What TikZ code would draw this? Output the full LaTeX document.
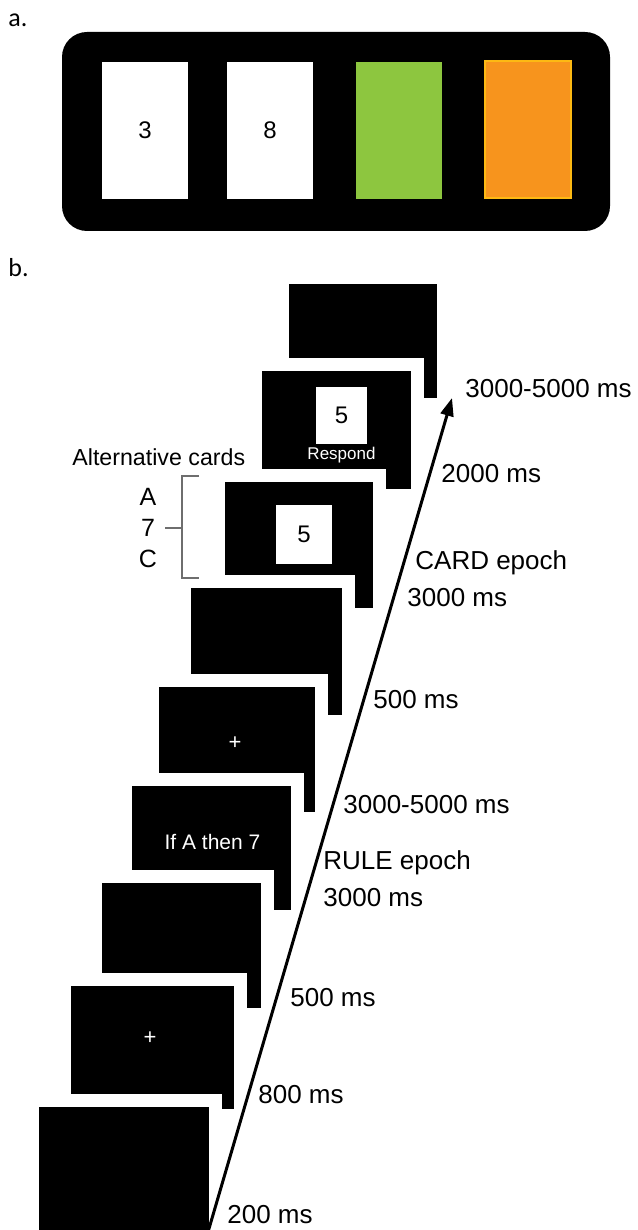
\documentclass[tikz,border=0pt]{standalone}
\usepackage{fontspec}
\setmainfont{Liberation Sans}
\newfontfamily\lblfont{Carlito}
\usetikzlibrary{arrows.meta}
\definecolor{cardgreen}{HTML}{8DC63F}
\definecolor{cardorange}{HTML}{F7941D}
\definecolor{cardedge}{HTML}{FDB913}
\definecolor{brackgray}{HTML}{6E6E6E}
\tikzset{
  card/.style={minimum width=43pt, minimum height=68.5pt, inner sep=0pt, font=\fontsize{12}{14}\selectfont},
  timelbl/.style={anchor=west, inner sep=0pt, font=\fontsize{13}{15}\selectfont},
  scrtxt/.style={text=white, inner sep=0pt},
  numbox/.style={fill=white, inner sep=0pt, font=\fontsize{12}{14}\selectfont},
  panellbl/.style={anchor=west, inner sep=0pt, font=\lblfont\fontsize{13}{15}\selectfont},
}
\begin{document}
\begin{tikzpicture}[x=0.5pt, y=-0.5pt]
\useasboundingbox (0,0) rectangle (637,1230);
\clip (0,0) rectangle (637,1230);
% panel a
\node[panellbl] (la) at (8,20) {a.};
\node[fill=black, rounded corners=12.5pt, minimum width=274pt, minimum height=99.5pt, inner sep=0pt] (panel) at (336,131.5) {};
\node[card, fill=white] (c1) at (145,130.5) {3};
\node[card, fill=white] (c2) at (270,130.5) {8};
\node[card, fill=cardgreen] (c3) at (398.5,131) {};
\node[card, fill=cardorange, draw=cardedge, line width=0.6pt] (c4) at (528,129.5) {};
% panel b
\node[panellbl] (lb) at (8,268) {b.};
\foreach \xa/\ya/\xb/\yb in {289/284/437/398, 262/371/411/489, 225/482/373/608, 191/588/342/715, 159/687/315/812, 132/786/291/910, 102/883/261/1008, 71/986/234/1109, 39/1107/209/1260}{
  \fill[white] (\xa-12.5,\ya-13) rectangle (\xb+12.5,\yb+12.5);
  \fill[black] (\xa,\ya) rectangle (\xb,\yb);
}
% screen contents
\node[numbox, minimum width=25.5pt, minimum height=28.5pt] (n2) at (341.5,415.5) {5};
\node[scrtxt, font=\fontsize{8.5}{10}\selectfont] (resp) at (341.5,455) {Respond};
\node[numbox, minimum width=28pt, minimum height=29.5pt] (n3) at (304,534.5) {5};
\node[scrtxt, font=\fontsize{11}{13}\selectfont] (fix1) at (235,743) {+};
\node[scrtxt, font=\fontsize{10.5}{12}\selectfont] (rule) at (212.5,842) {If A then 7};
\node[scrtxt, font=\fontsize{11}{13}\selectfont] (fix2) at (150,1038) {+};
% alternative cards
\node[anchor=west, inner sep=0pt, font=\fontsize{11.6}{14}\selectfont] (alt) at (72,457) {Alternative cards};
\node[inner sep=0pt, font=\fontsize{12.5}{15}\selectfont] (altA) at (148,497) {A};
\node[inner sep=0pt, font=\fontsize{12.5}{15}\selectfont] (alt7) at (148,528) {7};
\node[inner sep=0pt, font=\fontsize{12.5}{15}\selectfont] (altC) at (148,559) {C};
\coordinate (bt) at (199,476);
\coordinate (bb) at (199,578);
\coordinate (bm) at (182,528);
\coordinate (bl) at (165,528);
\draw[brackgray, line width=0.8pt] (bt) -- (182,476) -- (182,578) -- (bb);
\draw[brackgray, line width=0.8pt] (bl) -- (bm);
% time arrow
\coordinate (arrS) at (208,1232);
\coordinate (arrE) at (452,398);
\draw[line width=1.5pt, -{Triangle[length=9pt, width=6.5pt]}] (arrS) -- (arrE);
% time labels
\node[timelbl] (t1) at (465,389) {3000-5000 ms};
\node[timelbl] (t2) at (441,474) {2000 ms};
\node[timelbl] (t3) at (415,563) {CARD epoch};
\node[timelbl] (t4) at (407,598) {3000 ms};
\node[timelbl] (t5) at (373,700) {500 ms};
\node[timelbl] (t6) at (343,805) {3000-5000 ms};
\node[timelbl] (t7) at (323,863) {RULE epoch};
\node[timelbl] (t8) at (323,898) {3000 ms};
\node[timelbl] (t9) at (290,998) {500 ms};
\node[timelbl] (t10) at (258,1095) {800 ms};
\node[timelbl] (t11) at (227,1215) {200 ms};
\end{tikzpicture}
\end{document}
